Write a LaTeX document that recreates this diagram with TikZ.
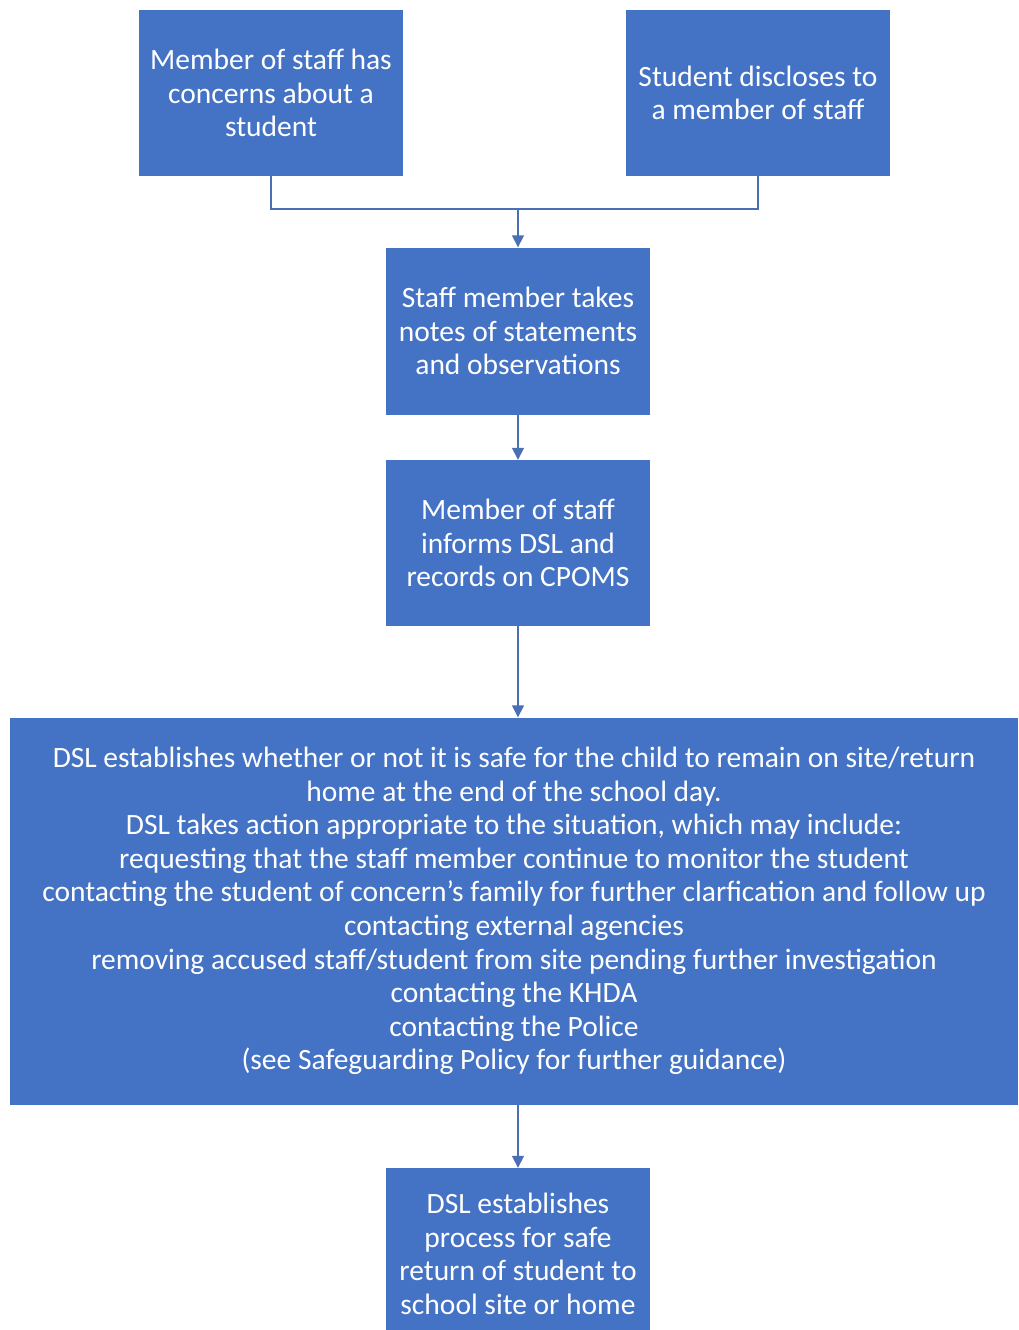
\documentclass[tikz,border=0pt]{standalone}
\usepackage{fontspec}
\setmainfont{Carlito}
\usepackage{tikz}
\usetikzlibrary{arrows.meta}
\definecolor{boxblue}{HTML}{4472C4}
\definecolor{lineblue}{HTML}{4A6FB5}
\tikzstyle{process} = [rectangle, minimum width=264pt, minimum height=166pt, text centered, align=center, fill=boxblue, text=white, inner sep=0pt, font=\fontsize{29.5}{33.6}\selectfont]
\tikzstyle{bigbox} = [process, minimum width=1008pt, minimum height=387pt]
\tikzstyle{arrow} = [line width=1.6pt, draw=lineblue, -{Triangle[length=12pt,width=12pt]}]
\tikzstyle{line} = [line width=1.6pt, draw=lineblue]

\begin{document}
\begin{tikzpicture}[x=1pt, y=-1pt]
    \useasboundingbox (0,0) rectangle (1018,1330);
    \node (concern) [process] at (271,93) {Member of staff has\\concerns about a\\student};
    \node (disclose) [process] at (758,93) {Student discloses to\\a member of staff};
    \coordinate (join) at (518,209);
    \node (notes) [process, minimum height=167pt] at (518,331) {Staff member takes\\notes of statements\\and observations};
    \node (inform) [process] at (518,543) {Member of staff\\informs DSL and\\records on CPOMS};
    \node (dsl) [bigbox] at (514,911) {DSL establishes whether or not it is safe for the child to remain on site/return\\home at the end of the school day.\\DSL takes action appropriate to the situation, which may include:\\requesting that the staff member continue to monitor the student\\contacting the student of concern's family for further clarfication and follow up\\contacting external agencies\\removing accused staff/student from site pending further investigation\\contacting the KHDA\\contacting the Police\\(see Safeguarding Policy for further guidance)};
    \node (return) [process, minimum height=172pt] at (518,1254) {DSL establishes\\process for safe\\return of student to\\school site or home};
    \draw [line] (concern.south) |- (join);
    \draw [line] (disclose.south) |- (join);
    \draw [arrow] (join) -- (notes);
    \draw [arrow] (notes) -- (inform);
    \draw [arrow] (inform.south) -- (inform.south |- dsl.north);
    \draw [arrow] (dsl.south -| return) -- (return);
\end{tikzpicture}
\end{document}
